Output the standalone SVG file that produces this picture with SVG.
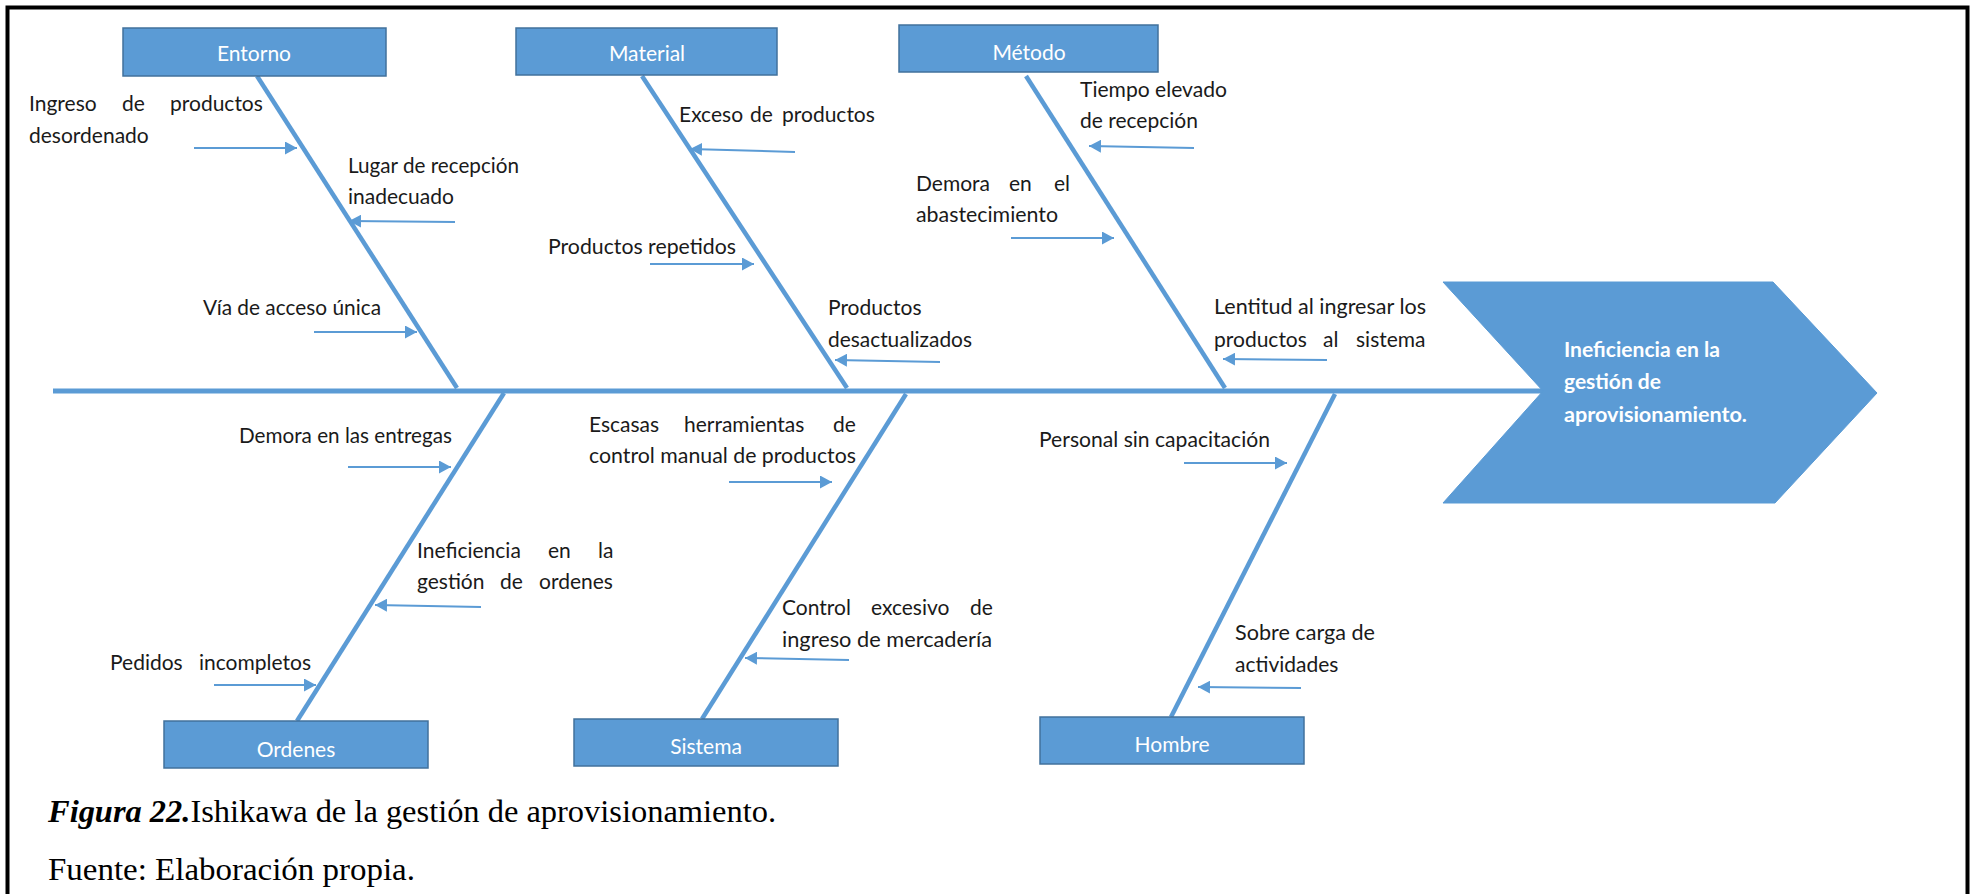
<svg xmlns="http://www.w3.org/2000/svg" width="1974" height="894" viewBox="0 0 1974 894">
<style>
.box{fill:#5B9BD5;stroke:#41719C;stroke-width:1.5}
.bl{font-family:Lato,"Liberation Sans",sans-serif;font-size:21px;fill:#FFFFFF;text-anchor:middle}
.lb{font-family:Lato,"Liberation Sans",sans-serif;font-size:21px;fill:#1a1a1a}
.bone{stroke:#5B9BD5;stroke-width:4.5;fill:none;stroke-linecap:butt}
.ar{stroke:#5B9BD5;stroke-width:2;fill:none;marker-end:url(#ah)}
.head{font-family:Lato,"Liberation Sans",sans-serif;font-size:21px;font-weight:bold;fill:#FFFFFF}
.cap{font-family:"Liberation Serif","Times New Roman",serif;font-size:31px;fill:#000}
</style>
<defs>
<marker id="ah" markerUnits="userSpaceOnUse" markerWidth="13" markerHeight="13" refX="12" refY="6.5" orient="auto">
<path d="M0,0 L12,6.5 L0,13 Z" fill="#5B9BD5"/>
</marker>
</defs>
<rect x="0" y="0" width="1974" height="894" fill="#FFFFFF"/>
<rect x="7.5" y="7.5" width="1960" height="900" fill="none" stroke="#000" stroke-width="4"/>

<g id="connectors">
<line class="bone" x1="53" y1="391" x2="1545" y2="391" style="stroke-width:5"/>
<line class="bone" x1="257" y1="76" x2="457" y2="388"/>
<line class="bone" x1="642" y1="76" x2="847" y2="388"/>
<line class="bone" x1="1026" y1="76" x2="1225" y2="388"/>
<line class="bone" x1="504" y1="393" x2="297" y2="721"/>
<line class="bone" x1="906" y1="394" x2="702" y2="719"/>
<line class="bone" x1="1335" y1="394" x2="1171" y2="717"/>
<line class="ar" x1="194" y1="148" x2="297" y2="148"/>
<line class="ar" x1="455" y1="222" x2="349" y2="221"/>
<line class="ar" x1="314" y1="332" x2="417" y2="332"/>
<line class="ar" x1="795" y1="152" x2="690" y2="149"/>
<line class="ar" x1="650" y1="264" x2="754" y2="264"/>
<line class="ar" x1="940" y1="362" x2="835" y2="360"/>
<line class="ar" x1="1194" y1="148" x2="1089" y2="146"/>
<line class="ar" x1="1011" y1="238" x2="1114" y2="238"/>
<line class="ar" x1="1327" y1="360" x2="1223" y2="359"/>
<line class="ar" x1="348" y1="467" x2="451" y2="467"/>
<line class="ar" x1="481" y1="607" x2="375" y2="605"/>
<line class="ar" x1="214" y1="685" x2="316" y2="685"/>
<line class="ar" x1="729" y1="482" x2="832" y2="482"/>
<line class="ar" x1="849" y1="660" x2="745" y2="658"/>
<line class="ar" x1="1184" y1="463" x2="1287" y2="463"/>
<line class="ar" x1="1301" y1="688" x2="1198" y2="687"/>
</g>

<g id="effect">
<path d="M1443,282 L1773,282 L1877,393 L1775,503 L1443,503 L1543,391 Z" fill="#5B9BD5" stroke="#5B9BD5" stroke-width="1"/>
<text class="head" x="1564" y="357" textLength="156" lengthAdjust="spacingAndGlyphs">Ineficiencia en la</text>
<text class="head" x="1564" y="389" textLength="97" lengthAdjust="spacingAndGlyphs">gestión de</text>
<text class="head" x="1564" y="422" textLength="183" lengthAdjust="spacingAndGlyphs">aprovisionamiento.</text>
</g>

<g id="entorno">
<rect class="box" x="123" y="28" width="263" height="48"/>
<text class="bl" x="254" y="61">Entorno</text>
<text class="lb" y="111"><tspan x="29">Ingreso</tspan><tspan x="122">de</tspan><tspan x="170">productos</tspan></text>
<text class="lb" x="29" y="143">desordenado</text>
<text class="lb" x="348" y="173" textLength="171" lengthAdjust="spacingAndGlyphs">Lugar de recepción</text>
<text class="lb" x="348" y="204">inadecuado</text>
<text class="lb" x="203" y="315" textLength="178" lengthAdjust="spacingAndGlyphs">Vía de acceso única</text>
</g>

<g id="material">
<rect class="box" x="516" y="28" width="261" height="47"/>
<text class="bl" x="647" y="61">Material</text>
<text class="lb" y="122"><tspan x="679">Exceso</tspan><tspan x="750">de</tspan><tspan x="782">productos</tspan></text>
<text class="lb" x="548" y="254" textLength="188" lengthAdjust="spacingAndGlyphs">Productos repetidos</text>
<text class="lb" x="828" y="315">Productos</text>
<text class="lb" x="828" y="347" textLength="144" lengthAdjust="spacingAndGlyphs">desactualizados</text>
</g>

<g id="metodo">
<rect class="box" x="899" y="25" width="259" height="47"/>
<text class="bl" x="1029" y="60">Método</text>
<text class="lb" x="1080" y="97" textLength="147" lengthAdjust="spacingAndGlyphs">Tiempo elevado</text>
<text class="lb" x="1080" y="128">de recepción</text>
<text class="lb" y="191"><tspan x="916">Demora</tspan><tspan x="1009">en</tspan><tspan x="1054">el</tspan></text>
<text class="lb" x="916" y="222" textLength="142" lengthAdjust="spacingAndGlyphs">abastecimiento</text>
<text class="lb" x="1214" y="314" textLength="212" lengthAdjust="spacingAndGlyphs">Lentitud al ingresar los</text>
<text class="lb" y="347"><tspan x="1214">productos</tspan><tspan x="1323">al</tspan><tspan x="1356">sistema</tspan></text>
</g>

<g id="ordenes">
<rect class="box" x="164" y="721" width="264" height="47"/>
<text class="bl" x="296" y="757">Ordenes</text>
<text class="lb" x="239" y="443" textLength="213" lengthAdjust="spacingAndGlyphs">Demora en las entregas</text>
<text class="lb" y="558"><tspan x="417">Ineficiencia</tspan><tspan x="548">en</tspan><tspan x="598">la</tspan></text>
<text class="lb" y="589"><tspan x="417">gestión</tspan><tspan x="500">de</tspan><tspan x="539">ordenes</tspan></text>
<text class="lb" y="670"><tspan x="110">Pedidos</tspan><tspan x="199">incompletos</tspan></text>
</g>

<g id="sistema">
<rect class="box" x="574" y="719" width="264" height="47"/>
<text class="bl" x="706" y="754">Sistema</text>
<text class="lb" y="432"><tspan x="589">Escasas</tspan><tspan x="684">herramientas</tspan><tspan x="833">de</tspan></text>
<text class="lb" x="589" y="463" textLength="267" lengthAdjust="spacingAndGlyphs">control manual de productos</text>
<text class="lb" y="615"><tspan x="782">Control</tspan><tspan x="871">excesivo</tspan><tspan x="970">de</tspan></text>
<text class="lb" x="782" y="647" textLength="210" lengthAdjust="spacingAndGlyphs">ingreso de mercadería</text>
</g>

<g id="hombre">
<rect class="box" x="1040" y="717" width="264" height="47"/>
<text class="bl" x="1172" y="752">Hombre</text>
<text class="lb" x="1039" y="447" textLength="231" lengthAdjust="spacingAndGlyphs">Personal sin capacitación</text>
<text class="lb" x="1235" y="640" textLength="140" lengthAdjust="spacingAndGlyphs">Sobre carga de</text>
<text class="lb" x="1235" y="672">actividades</text>
</g>

<g id="caption">
<text class="cap" x="48" y="822" textLength="728" lengthAdjust="spacingAndGlyphs"><tspan font-weight="bold" font-style="italic">Figura 22.</tspan>Ishikawa de la gestión de aprovisionamiento.</text>
<text class="cap" x="48" y="880" textLength="367" lengthAdjust="spacingAndGlyphs">Fuente: Elaboración propia.</text>
</g>
</svg>
